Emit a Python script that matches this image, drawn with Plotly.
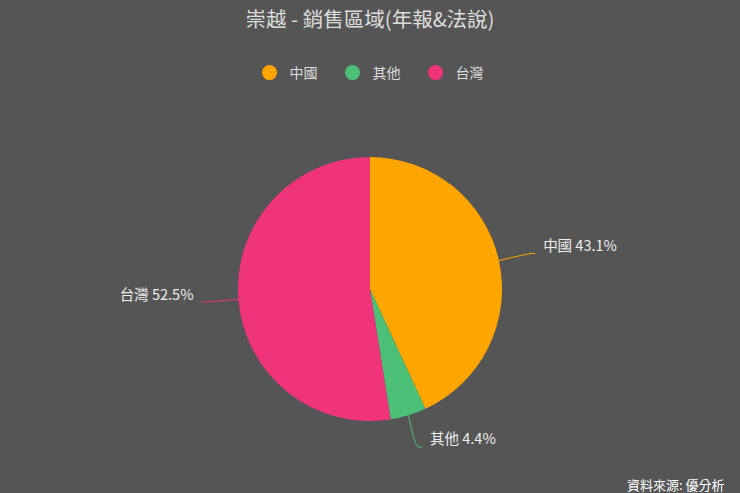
import numpy as np
import plotly.graph_objects as go

categories = ["中國", "其他", "台灣"]
values = [43.1, 4.4, 52.5]
colors = ["#FFA500", "#4CC076", "#F0347A"]

W, H = 740, 493
CX, CY, R = 370, 289, 132      # pie centre and radius in pixels
LEN1, LEN2, GAP, DYT = 33, 4, 8, -6   # leader line lengths, label gap, label y offset

FONT = "Noto Sans CJK TC"
fig = go.Figure()
fig.add_trace(go.Pie(
    labels=categories, values=values, sort=False, direction="clockwise", rotation=0,
    marker=dict(colors=colors, line=dict(width=0)),
    textinfo="none", showlegend=False, hoverinfo="label+percent",
    domain=dict(x=[(CX - R) / W, (CX + R) / W], y=[(H - CY - R) / H, (H - CY + R) / H]),
))

# leader lines + labels computed from the values
vals = np.array(values, dtype=float)
frac = vals / vals.sum()
mid = np.cumsum(frac) - frac / 2
ang = np.pi / 2 - mid * 2 * np.pi       # math angle, clockwise from top
for c, col, a, f in zip(categories, colors, ang, frac):
    dx, dy = np.cos(a), -np.sin(a)       # pixel space (y down)
    side = 1 if dx >= 0 else -1
    p1 = (CX + R * dx, CY + R * dy)
    p2 = (CX + (R + LEN1) * dx, CY + (R + LEN1) * dy)
    p3 = (p2[0] + side * LEN2, p2[1])
    fig.add_trace(go.Scatter(x=[p1[0], p2[0], p3[0]], y=[p1[1], p2[1], p3[1]], mode="lines",
                             line=dict(color=col, width=1, shape="spline"),
                             showlegend=False, hoverinfo="skip"))
    fig.add_trace(go.Scatter(x=[p3[0] + side * GAP], y=[p3[1] + DYT], mode="text",
                             text=[f"{c} {f * 100:.1f}%"],
                             textposition="middle right" if side > 0 else "middle left",
                             textfont=dict(family=FONT, size=14.5, color="#EEEEEE"),
                             showlegend=False, hoverinfo="skip"))

for c, col in zip(categories, colors):
    fig.add_trace(go.Scatter(x=[None], y=[None], mode="markers", name=c,
                             marker=dict(symbol="circle", size=15, color=col)))

fig.update_layout(
    width=W, height=H,
    paper_bgcolor="#555555", plot_bgcolor="rgba(0,0,0,0)",
    margin=dict(l=0, r=0, t=0, b=0),
    font=dict(family=FONT, color="#DDDDDD"),
    title=dict(text="崇越 - 銷售區域(年報&法說)", x=0.5, xanchor="center", y=1 - 20 / H, yanchor="middle",
               font=dict(family=FONT, size=20.5, color="#DDDDDD")),
    legend=dict(orientation="h", x=0.5 + 4 / W, xanchor="center", y=1 - 73 / H, yanchor="middle",
                font=dict(family=FONT, size=14, color="#DDDDDD"), bgcolor="rgba(0,0,0,0)",
                itemwidth=30, entrywidth=38, entrywidthmode="pixels"),
    xaxis=dict(visible=False, range=[0, W], autorange=False, fixedrange=True, domain=[0, 1]),
    yaxis=dict(visible=False, range=[H, 0], autorange=False, fixedrange=True, domain=[0, 1]),
    annotations=[dict(text="資料來源: 優分析", x=1 - 13 / W, y=9 / H, xref="paper", yref="paper",
                      xanchor="right", yanchor="middle", showarrow=False,
                      font=dict(family=FONT, size=13, color="#FFFFFF"))],
)
fig.write_html("out.html", config={"displayModeBar": False},
               post_script="document.body.style.margin='0';document.body.style.overflow='hidden';")
